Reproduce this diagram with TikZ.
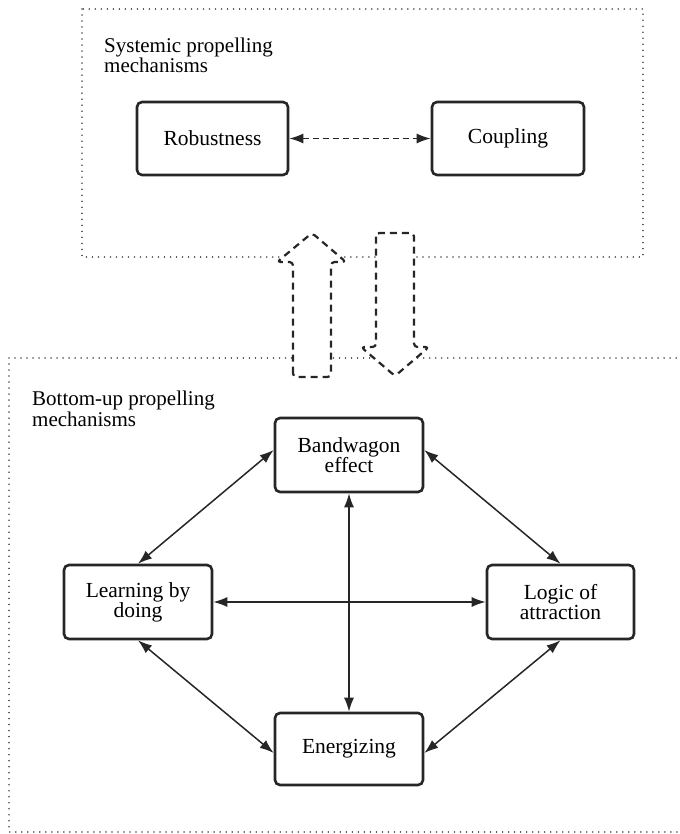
\documentclass[tikz,border=0pt]{standalone}
\usepackage{fontspec}
\setmainfont{Liberation Serif}
\usetikzlibrary{arrows.meta}
\begin{document}
\begin{tikzpicture}[x=1pt,y=-1pt,
  frame/.style={draw=black!70, line width=1.6pt, dash pattern=on 0.01pt off 6pt, line cap=round},
  mbox/.style={draw=black!85, line width=2.6pt, rounded corners=5pt, fill=white,
    minimum height=73pt, inner sep=0pt, align=center,
    font=\fontsize{21.5}{20}\selectfont},
  lbl/.style={anchor=base west, inner sep=0pt, align=left,
    font=\fontsize{21}{18.5}\selectfont},
  link/.style={draw=black!85, line width=1.5pt, {Latex[length=14pt,width=10pt]}-{Latex[length=14pt,width=10pt]}},
  dlink/.style={link, dash pattern=on 6pt off 4pt},
  block/.style={draw=black!85, fill=white, line width=2.2pt, dash pattern=on 7pt off 5pt, rounded corners=3.5pt, line join=round}
]
\useasboundingbox (0,0) rectangle (679,834);
% frames
\draw[frame] (82,9) rectangle (643,257);
\draw[frame] (9,358) -- (690,358) (9,358) -- (9,832) -- (690,832);
% labels (base anchor = last line)
\node[lbl] (sysl) at (104,73) {Systemic propelling\\mechanisms};
\node[lbl] (botl) at (32,426) {Bottom-up propelling\\mechanisms};
% top nodes
\node[mbox, minimum width=151pt] (rob) at (212.5,138.5) {Robustness};
\node[mbox, minimum width=152pt] (cou) at (508,138.5) {Coupling};
\draw[dlink] (rob) -- (cou);
% block arrows
\draw[block] (293,377) -- (293,262) -- (277,262) -- (312,233) -- (346,262) -- (331,262) -- (331,377) -- cycle;
\draw[block] (376,233) -- (376,347) -- (361,347) -- (395,376) -- (429,347) -- (414,347) -- (414,233) -- cycle;
% bottom nodes
\node[mbox, minimum width=148pt, minimum height=74pt] (band) at (349,455) {Bandwagon\\effect};
\node[mbox, minimum width=148pt, minimum height=74pt] (learn) at (138,602) {Learning by\\doing};
\node[mbox, minimum width=147pt, minimum height=74pt] (logic) at (560.5,602) {Logic of\\attraction};
\node[mbox, minimum width=148pt, minimum height=72pt] (ener) at (349,749) {Energizing};
% connectors
\draw[link] (learn.north) -- ([yshift=5pt]band.west);
\draw[link] ([yshift=5pt]band.east) -- (logic.north);
\draw[link] (learn.east) -- (logic.west);
\draw[link] (band.south) -- (ener.north);
\draw[link] (learn.south) -- ([yshift=-4pt]ener.west);
\draw[link] (logic.south) -- ([yshift=-4pt]ener.east);
\end{tikzpicture}
\end{document}
